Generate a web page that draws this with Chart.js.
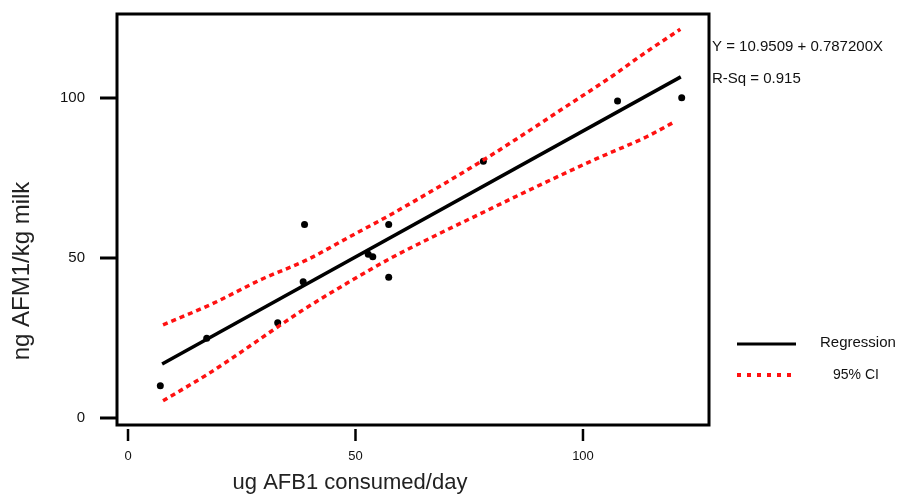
<!DOCTYPE html>
<html>
<head>
<meta charset="utf-8">
<script src="https://cdn.jsdelivr.net/npm/chart.js@4/dist/chart.umd.min.js"></script>
<style>
  html, body { margin: 0; padding: 0; background: #ffffff; }
  #wrap { width: 899px; height: 495px; }
</style>
</head>
<body>
<div id="wrap"><canvas id="c" width="899" height="495"></canvas></div>
<script>
// ---- data ----
const obsX = [7.1, 17.3, 32.9, 38.5, 38.8, 52.8, 53.8, 57.3, 57.3, 78.1, 107.6, 121.7];
const obsY = [10.1, 24.9, 29.8, 42.6, 60.5, 51.2, 50.4, 60.5, 44.0, 80.2, 99.1, 100.1];

const regX = [7.5, 121.5];
const regY = [16.9, 106.6];

const upperX = [7.7, 18.7, 29.0, 39.3, 48.8, 58.3, 78.1, 85.4, 95.7, 106.8, 112.5, 121.4];
const upperY = [29.1, 35.8, 43.1, 49.4, 56.7, 64.0, 80.6, 87.2, 96.8, 107.2, 113.0, 121.5];

const lowerX = [7.7, 17.3, 23.4, 31.9, 38.5, 48.1, 57.3, 66.4, 77.4, 89.8, 102.3, 114.0, 120.2];
const lowerY = [5.4, 13.5, 19.2, 27.5, 33.8, 42.1, 49.6, 56.2, 63.8, 72.3, 80.6, 87.9, 92.6];

const xTicks = [0, 50, 100];
const yTicks = [0, 50, 100];

const xTitle = 'ug AFB1 consumed/day';
const yTitle = 'ng AFM1/kg milk';
const eqLines = ['Y = 10.9509 + 0.787200X', 'R-Sq = 0.915'];
const seriesLabels = ['Regression', '95% CI'];

// ---- helpers ----
const pts = (xs, ys) => xs.map((x, i) => ({ x: x, y: ys[i] }));
const FONT = '"Liberation Sans", Arial, sans-serif';
const RED = '#ff1111';

const decor = {
  id: 'decor',
  afterDraw(chart) {
    const ctx = chart.ctx;
    const a = chart.chartArea;
    const xs = chart.scales.x, ys = chart.scales.y;
    ctx.save();
    // frame
    ctx.strokeStyle = '#000';
    ctx.lineWidth = 3;
    ctx.strokeRect(a.left, a.top, a.right - a.left, a.bottom - a.top);
    // y tick marks
    ctx.lineWidth = 3;
    yTicks.forEach(v => {
      const p = ys.getPixelForValue(v);
      ctx.beginPath(); ctx.moveTo(100, p); ctx.lineTo(a.left, p); ctx.stroke();
    });
    // x tick marks (detached axis)
    ctx.lineWidth = 2.5;
    xTicks.forEach(v => {
      const p = xs.getPixelForValue(v);
      ctx.beginPath(); ctx.moveTo(p, a.bottom + 4); ctx.lineTo(p, a.bottom + 16); ctx.stroke();
    });
    // axis titles
    ctx.fillStyle = '#222';
    ctx.textBaseline = 'middle';
    ctx.textAlign = 'center';
    ctx.font = '22px ' + FONT;
    ctx.fillText(xTitle, 350, 483);
    ctx.save();
    ctx.translate(22, 271);
    ctx.rotate(-Math.PI / 2);
    ctx.font = '24px ' + FONT;
    ctx.fillText(yTitle, 0, 0);
    ctx.restore();
    // regression equation
    ctx.textAlign = 'left';
    ctx.font = '15px ' + FONT;
    ctx.fillStyle = '#111';
    ctx.fillText(eqLines[0], 712, 47);
    ctx.fillText(eqLines[1], 712, 79);
    // legend
    ctx.strokeStyle = '#000';
    ctx.lineWidth = 3;
    ctx.beginPath(); ctx.moveTo(737, 344); ctx.lineTo(796, 344); ctx.stroke();
    ctx.strokeStyle = RED;
    ctx.lineWidth = 4;
    ctx.setLineDash([4, 6]);
    ctx.beginPath(); ctx.moveTo(737, 375); ctx.lineTo(796, 375); ctx.stroke();
    ctx.setLineDash([]);
    ctx.fillStyle = '#111';
    ctx.font = '15px ' + FONT;
    ctx.fillText(seriesLabels[0], 820, 343);
    ctx.font = '14px ' + FONT;
    ctx.fillText(seriesLabels[1], 833, 375);
    ctx.restore();
  }
};

new Chart(document.getElementById('c'), {
  type: 'scatter',
  data: {
    datasets: [
      {
        label: seriesLabels[1] + ' upper',
        data: pts(upperX, upperY),
        showLine: true,
        borderColor: RED,
        borderWidth: 3.5,
        borderDash: [5, 4],
        pointRadius: 0,
        cubicInterpolationMode: 'monotone',
        fill: false
      },
      {
        label: seriesLabels[1] + ' lower',
        data: pts(lowerX, lowerY),
        showLine: true,
        borderColor: RED,
        borderWidth: 3.5,
        borderDash: [5, 4],
        pointRadius: 0,
        cubicInterpolationMode: 'monotone',
        fill: false
      },
      {
        label: seriesLabels[0],
        data: pts(regX, regY),
        showLine: true,
        borderColor: '#000',
        borderWidth: 3.5,
        pointRadius: 0,
        fill: false
      },
      {
        label: 'Observed',
        data: pts(obsX, obsY),
        showLine: false,
        pointRadius: 3.5,
        pointStyle: 'circle',
        backgroundColor: '#000',
        borderColor: '#000',
        borderWidth: 0
      }
    ]
  },
  options: {
    responsive: false,
    animation: false,
    events: [],
    layout: { autoPadding: false, padding: { left: 0, top: 14, right: 190, bottom: 0 } },
    plugins: { legend: { display: false }, tooltip: { enabled: false } },
    scales: {
      x: {
        type: 'linear',
        min: -2.42,
        max: 127.7,
        grid: { display: false, drawTicks: false },
        border: { display: false },
        afterBuildTicks: s => { s.ticks = xTicks.map(v => ({ value: v })); },
        afterFit: s => { s.height = 70; s.paddingLeft = 0; s.paddingRight = 0; },
        ticks: { padding: 24, color: '#111', font: { family: FONT, size: 13 }, maxRotation: 0 }
      },
      y: {
        type: 'linear',
        min: -2.19,
        max: 126.25,
        grid: { display: false, drawTicks: false },
        border: { display: false },
        afterBuildTicks: s => { s.ticks = yTicks.map(v => ({ value: v })); },
        afterFit: s => { s.width = 117; s.paddingTop = 0; s.paddingBottom = 0; },
        ticks: { padding: 32, color: '#111', font: { family: FONT, size: 15 } }
      }
    }
  },
  plugins: [decor]
});
</script>
</body>
</html>
